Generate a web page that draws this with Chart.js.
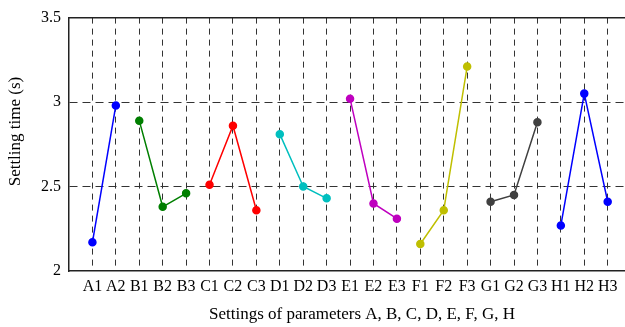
<!DOCTYPE html>
<html>
<head>
    <meta charset="UTF-8">
    <title>Settling time vs parameter settings</title>
    <style>
        html, body { margin: 0; padding: 0; background: #fff; overflow: hidden; }
        /* the original figure is cut off on the right, so the chart is a bit wider than the window */
        #wrap { width: 660px; height: 327px; }
    </style>
</head>
<body>
    <div id="wrap"><canvas id="settlingChart"></canvas></div>

    <script src="https://cdn.jsdelivr.net/npm/chart.js"></script>
    <script>
        // Level labels along the x axis
        const levelLabels = ['A1', 'A2', 'B1', 'B2', 'B3', 'C1', 'C2', 'C3', 'D1', 'D2', 'D3',
            'E1', 'E2', 'E3', 'F1', 'F2', 'F3', 'G1', 'G2', 'G3', 'H1', 'H2', 'H3'];

        // Settling time (s) for each parameter level
        const timesA = [2.17, 2.98];
        const timesB = [2.89, 2.38, 2.46];
        const timesC = [2.51, 2.86, 2.36];
        const timesD = [2.81, 2.50, 2.43];
        const timesE = [3.02, 2.40, 2.31];
        const timesF = [2.16, 2.36, 3.21];
        const timesG = [2.41, 2.45, 2.88];
        const timesH = [2.27, 3.05, 2.41];

        const yTicks = [2, 2.5, 3, 3.5];

        const groups = [
            { name: 'A', values: timesA, color: '#0000ff' },
            { name: 'B', values: timesB, color: '#007f00' },
            { name: 'C', values: timesC, color: '#ff0000' },
            { name: 'D', values: timesD, color: '#00bfbf' },
            { name: 'E', values: timesE, color: '#bf00bf' },
            { name: 'F', values: timesF, color: '#bfbf00' },
            { name: 'G', values: timesG, color: '#404040' },
            { name: 'H', values: timesH, color: '#0000ff' }
        ];

        const datasets = groups.map(g => ({
            label: g.name,
            data: g.values.map((v, i) => ({
                x: levelLabels.indexOf(g.name + (i + 1)) + 1,
                y: v
            })),
            borderColor: g.color,
            backgroundColor: g.color,
            borderWidth: 1.5,
            pointRadius: 3.5,
            pointHoverRadius: 3.5,
            tension: 0
        }));

        const serif = "'Liberation Serif', 'Times New Roman', serif";
        const xMax = 25.02;

        new Chart(document.getElementById('settlingChart').getContext('2d'), {
            type: 'line',
            data: { datasets: datasets },
            options: {
                responsive: true,
                maintainAspectRatio: false,
                animation: false,
                events: [],
                layout: { padding: { left: 0, right: 0, top: 11, bottom: 0 } },
                plugins: {
                    legend: { display: false },
                    tooltip: { enabled: false }
                },
                scales: {
                    x: {
                        type: 'linear',
                        min: 0,
                        max: xMax,
                        afterBuildTicks: scale => {
                            scale.ticks = levelLabels.map((l, i) => ({ value: i + 1 }));
                        },
                        afterFit: scale => { scale.height = 56; },
                        ticks: {
                            autoSkip: false,
                            maxRotation: 0,
                            padding: 6,
                            color: '#000',
                            font: { family: serif, size: 16 },
                            callback: value => levelLabels[value - 1]
                        },
                        grid: {
                            color: '#333',
                            lineWidth: 1,
                            drawTicks: false
                        },
                        // in v4 border.dash is the dash of the grid lines
                        border: { display: true, color: '#222', width: 1.5, dash: [6, 5] },
                        title: {
                            display: true,
                            text: 'Settings of parameters A, B, C, D, E, F, G, H',
                            color: '#000',
                            font: { family: serif, size: 17 },
                            padding: { top: 0, bottom: 2 }
                        }
                    },
                    xTop: {
                        type: 'linear',
                        position: 'top',
                        min: 0,
                        max: xMax,
                        afterFit: scale => { scale.height = 0; },
                        ticks: { display: false },
                        grid: { display: false, drawTicks: false },
                        border: { display: true, color: '#222', width: 1.5 }
                    },
                    y: {
                        min: 2,
                        max: 3.5,
                        afterBuildTicks: scale => {
                            scale.ticks = yTicks.map(v => ({ value: v }));
                        },
                        afterFit: scale => { scale.width = 69; },
                        ticks: {
                            padding: 8,
                            color: '#000',
                            font: { family: serif, size: 16 },
                            callback: value => String(value)
                        },
                        grid: {
                            color: ctx => (ctx.tick && (ctx.tick.value === 2.5 || ctx.tick.value === 3)) ? '#333' : 'rgba(0,0,0,0)',
                            lineWidth: 1,
                            drawTicks: false
                        },
                        border: { display: true, color: '#222', width: 1.5, dash: [8, 5] },
                        title: {
                            display: true,
                            // leading en spaces nudge the title up like in the original
                            text: '\u2002\u2002\u2002Settling time (s)',
                            color: '#000',
                            font: { family: serif, size: 17 },
                            padding: { top: 5, bottom: 0 }
                        }
                    }
                }
            }
        });
    </script>
</body>
</html>
